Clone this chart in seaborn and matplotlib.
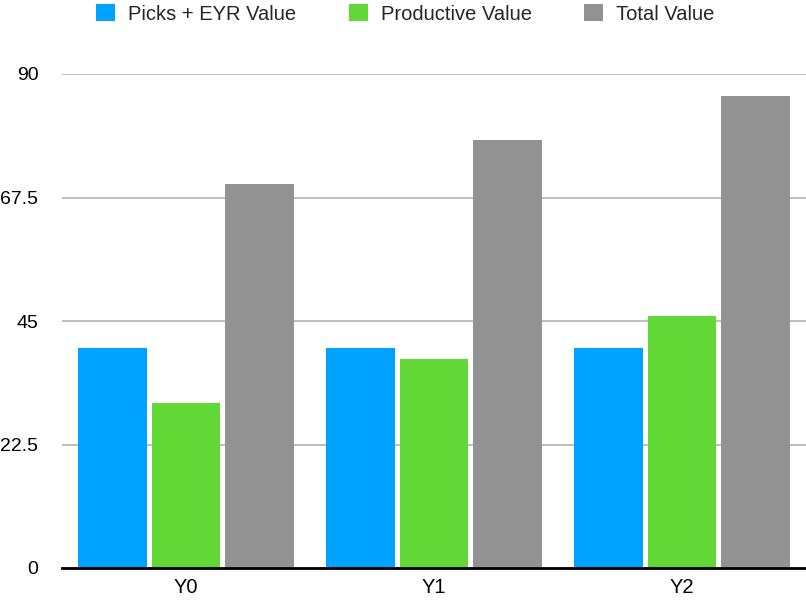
import pandas as pd
import numpy as np
import matplotlib
matplotlib.use("Agg")
import matplotlib.pyplot as plt
import seaborn as sns

years = ["Y0", "Y1", "Y2"]
picks_eyr = [40, 40, 40]
productive = [30, 38, 46]
total = [70, 78, 86]
series_names = ["Picks + EYR Value", "Productive Value", "Total Value"]
series_colors = ["#00A2FF", "#61D836", "#929292"]
y_ticks = [0, 22.5, 45, 67.5, 90]
y_tick_labels = ["0", "22.5", "45", "67.5", "90"]

df = pd.DataFrame({
    "Year": years * 3,
    "Series": np.repeat(series_names, 3),
    "Value": picks_eyr + productive + total,
})

sns.set_style("white")
plt.rcParams["font.family"] = ["Liberation Sans", "DejaVu Sans"]

fig = plt.figure(figsize=(8.06, 6.0), dpi=100)
ax = fig.add_axes([62 / 806, 1 - 568 / 600, 1 - 62 / 806, (568 - 74) / 600])

sns.barplot(data=df, x="Year", y="Value", hue="Series", palette=series_colors,
            width=0.89, gap=0.07, saturation=1, linewidth=0, edgecolor="none",
            ax=ax, legend=True)

ax.set_ylim(0, 90)
ax.set_xlim(-0.5, 2.5)
ax.set_yticks(y_ticks)
ax.set_yticklabels(y_tick_labels)
ax.yaxis.grid(True, color="#b3b3b3", linewidth=1.2)
ax.set_axisbelow(True)
ax.set_xlabel("")
ax.set_ylabel("")
for s in ["top", "right", "left"]:
    ax.spines[s].set_visible(False)
ax.spines["bottom"].set_color("black")
ax.spines["bottom"].set_linewidth(2)
ax.tick_params(axis="y", length=0, pad=17, labelsize=14, colors="black")
ax.tick_params(axis="x", length=0, pad=7, labelsize=14.5, colors="black")

handles, labels = ax.get_legend_handles_labels()
ax.get_legend().remove()
fig.legend(handles, labels, loc="center", bbox_to_anchor=(0.503, 0.977), ncol=3,
           frameon=False, fontsize=14.5, handlelength=0.95, handleheight=0.95,
           handletextpad=0.65, columnspacing=2.6)

fig.savefig("out.png", dpi=100)
